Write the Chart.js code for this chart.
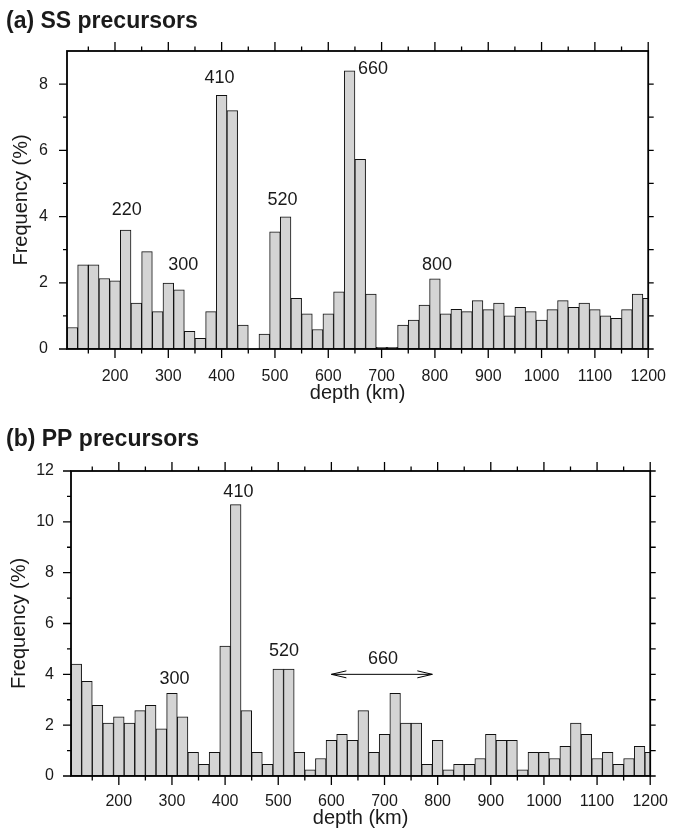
<!DOCTYPE html>
<html>
<head>
<meta charset="utf-8">
<script src="https://cdn.jsdelivr.net/npm/chart.js@4/dist/chart.umd.min.js"></script>
<style>
  html, body { margin: 0; padding: 0; background: #fff; }
  #page { position: relative; width: 684px; height: 838px; }
  canvas { position: absolute; left: 0; }
  #ss { top: 0; }
  #pp { top: 419px; }
</style>
</head>
<body>
<div id="page">
  <canvas id="ss" width="684" height="419"></canvas>
  <canvas id="pp" width="684" height="419"></canvas>
</div>
<script>
// Depth bins (km, bin centres, 20 km wide)
const depthBins = [120,140,160,180,200,220,240,260,280,300,320,340,360,380,400,420,440,460,480,500,
  520,540,560,580,600,620,640,660,680,700,720,740,760,780,800,820,840,860,880,900,
  920,940,960,980,1000,1020,1040,1060,1080,1100,1120,1140,1160,1180,1200];

// SS precursor reflection depths, frequency in %
const ssFreq = [0.65,2.54,2.54,2.13,2.06,3.59,1.39,2.94,1.13,1.99,1.79,0.53,0.32,1.13,7.66,7.20,0.72,null,0.45,3.54,
  3.99,1.53,1.06,0.59,1.06,1.73,8.40,5.73,1.66,0.05,0.05,0.72,0.87,1.33,2.12,1.06,1.20,1.13,1.46,1.19,
  1.39,1.00,1.26,1.13,0.87,1.19,1.46,1.26,1.39,1.19,1.00,0.93,1.19,1.66,1.53];

// PP precursor reflection depths, frequency in %
const ppFreq = [4.40,3.72,2.78,2.08,2.33,2.08,2.57,2.78,1.86,3.25,2.33,0.93,0.46,0.93,5.11,10.68,2.57,0.93,0.46,4.21,
  4.21,0.93,0.24,0.69,1.40,1.64,1.40,2.57,0.93,1.64,3.25,2.08,2.08,0.46,1.40,0.24,0.46,0.46,0.69,1.64,
  1.40,1.40,0.24,0.93,0.93,0.69,1.17,2.08,1.64,0.69,0.93,0.46,0.69,1.17,0.93];

// Axis ticks
const depthTicks = [200,300,400,500,600,700,800,900,1000,1100,1200];
const depthMinorTicks = [150,250,350,450,550,650,750,850,950,1050,1150];
const ssFreqTicks = [0,2,4,6,8];
const ssFreqMinorTicks = [1,3,5,7];
const ppFreqTicks = [0,2,4,6,8,10,12];
const ppFreqMinorTicks = [1,3,5,7,9,11];

// Discontinuity labels: text, depth, frequency level
const ssPeakText = ['220','300','410','520','660','800'];
const ssPeakDepth = [222,328,396,514,684,804];
const ssPeakLevel = [4.2,2.55,8.19,4.49,8.47,2.54];

const ppPeakText = ['300','410','520','660'];
const ppPeakDepth = [305,425,511,697];
const ppPeakLevel = [3.82,11.18,4.91,4.6];

// Double-headed arrow spanning the broad 660 signal in PP
const ppArrowFrom = 600;
const ppArrowTo = 790;
const ppArrowLevel = 4;

const FONT = '"Liberation Sans", Arial, Helvetica, sans-serif';
const INK = '#1a1a1a';

// Frame, tick marks on all four sides, peak labels, panel title
const panelDecor = {
  id: 'panelDecor',
  afterDatasetsDraw(chart, args, o) {
    const { ctx, chartArea: a } = chart;
    const xs = chart.scales.x, ys = chart.scales.y;
    ctx.save();
    ctx.strokeStyle = '#000';
    ctx.lineWidth = 1.3;
    ctx.beginPath();
    const seg = (x1, y1, x2, y2) => { ctx.moveTo(x1, y1); ctx.lineTo(x2, y2); };
    depthTicks.forEach(v => {
      const p = xs.getPixelForValue(v);
      seg(p, a.bottom, p, a.bottom + 9);
      seg(p, a.top, p, a.top - 9);
    });
    depthMinorTicks.forEach(v => {
      const p = xs.getPixelForValue(v);
      seg(p, a.bottom, p, a.bottom + 4.5);
      seg(p, a.top, p, a.top - 4.5);
    });
    o.yMajor.forEach(v => {
      const p = ys.getPixelForValue(v);
      seg(a.left - 8, p, a.left, p);
      seg(a.right, p, a.right + 5.5, p);
    });
    o.yMinor.forEach(v => {
      const p = ys.getPixelForValue(v);
      seg(a.left - 4, p, a.left, p);
      seg(a.right, p, a.right + 5.5, p);
    });
    ctx.stroke();
    ctx.lineWidth = 1.8;
    ctx.strokeRect(a.left, a.top, a.right - a.left, a.bottom - a.top);

    // peak labels
    ctx.fillStyle = INK;
    ctx.font = '18px ' + FONT;
    ctx.textAlign = 'center';
    ctx.textBaseline = 'middle';
    o.peakText.forEach((t, i) => {
      ctx.fillText(t, xs.getPixelForValue(o.peakDepth[i]), ys.getPixelForValue(o.peakLevel[i]));
    });

    // optional double arrow
    if (o.arrow) {
      const x1 = xs.getPixelForValue(o.arrow[0]);
      const x2 = xs.getPixelForValue(o.arrow[1]);
      const yy = ys.getPixelForValue(o.arrow[2]);
      ctx.lineWidth = 1;
      ctx.beginPath();
      seg(x1, yy, x2, yy);
      ctx.moveTo(x1 + 15, yy - 3.5); ctx.lineTo(x1, yy); ctx.lineTo(x1 + 15, yy + 3.5);
      ctx.moveTo(x2 - 15, yy - 3.5); ctx.lineTo(x2, yy); ctx.lineTo(x2 - 15, yy + 3.5);
      ctx.stroke();
    }

    // panel title
    ctx.textAlign = 'left';
    ctx.textBaseline = 'alphabetic';
    ctx.font = 'bold 23px ' + FONT;
    ctx.fillText(o.title, 6, o.titleBaseline);
    ctx.restore();
  }
};

function makePanel(id, values, yMax, yTicks, yMinor, cfg) {
  return new Chart(document.getElementById(id), {
    type: 'bar',
    data: {
      datasets: [{
        data: depthBins.map((d, i) => ({ x: d, y: values[i] })),
        backgroundColor: '#d4d4d4',
        borderColor: '#111',
        borderWidth: 1,
        borderSkipped: false,
        barPercentage: 1,
        categoryPercentage: 1,
        clip: 0
      }]
    },
    options: {
      responsive: false,
      animation: false,
      layout: { padding: { top: cfg.padTop, right: cfg.padRight, left: 0, bottom: 0 } },
      plugins: {
        legend: { display: false },
        tooltip: { enabled: false },
        panelDecor: {
          yMajor: yTicks, yMinor: yMinor,
          peakText: cfg.peakText, peakDepth: cfg.peakDepth, peakLevel: cfg.peakLevel,
          arrow: cfg.arrow, title: cfg.title, titleBaseline: cfg.titleBaseline
        }
      },
      scales: {
        x: {
          type: 'linear',
          offset: false,
          min: 110, max: 1200,
          afterBuildTicks: s => { s.ticks = depthTicks.map(v => ({ value: v })); },
          afterFit: s => { s.height = cfg.xHeight; },
          grid: { display: false, drawTicks: false },
          border: { display: false },
          ticks: { color: INK, font: { family: FONT, size: 16 }, padding: cfg.xTickPad, maxRotation: 0,
                   autoSkip: false, callback: v => String(v) },
          title: { display: true, text: 'depth (km)', color: INK, font: { family: FONT, size: 20 },
                   padding: { top: 0, bottom: cfg.xTitlePad } }
        },
        y: {
          min: 0, max: yMax,
          afterBuildTicks: s => { s.ticks = yTicks.map(v => ({ value: v })); },
          afterFit: s => { s.width = cfg.yWidth; },
          grid: { display: false, drawTicks: false },
          border: { display: false },
          ticks: { color: INK, font: { family: FONT, size: 16 }, padding: cfg.yTickPad, callback: v => String(v) },
          title: { display: true, text: 'Frequency (%)', color: INK, font: { family: FONT, size: 20 },
                   padding: { top: cfg.yTitlePad, bottom: 0 } }
        }
      }
    },
    plugins: [panelDecor]
  });
}

makePanel('ss', ssFreq, 9, ssFreqTicks, ssFreqMinorTicks, {
  padTop: 51, padRight: 20, xHeight: 70, yWidth: 67,
  xTickPad: 18, xTitlePad: 14, yTickPad: 19, yTitlePad: 9,
  peakText: ssPeakText, peakDepth: ssPeakDepth, peakLevel: ssPeakLevel,
  arrow: null, title: '(a) SS precursors', titleBaseline: 28
});

makePanel('pp', ppFreq, 12, ppFreqTicks, ppFreqMinorTicks, {
  padTop: 52, padRight: 20, xHeight: 62, yWidth: 71,
  xTickPad: 16, xTitlePad: 8, yTickPad: 17, yTitlePad: 7.5,
  peakText: ppPeakText, peakDepth: ppPeakDepth, peakLevel: ppPeakLevel,
  arrow: [ppArrowFrom, ppArrowTo, ppArrowLevel], title: '(b) PP precursors', titleBaseline: 27
});
</script>
</body>
</html>
